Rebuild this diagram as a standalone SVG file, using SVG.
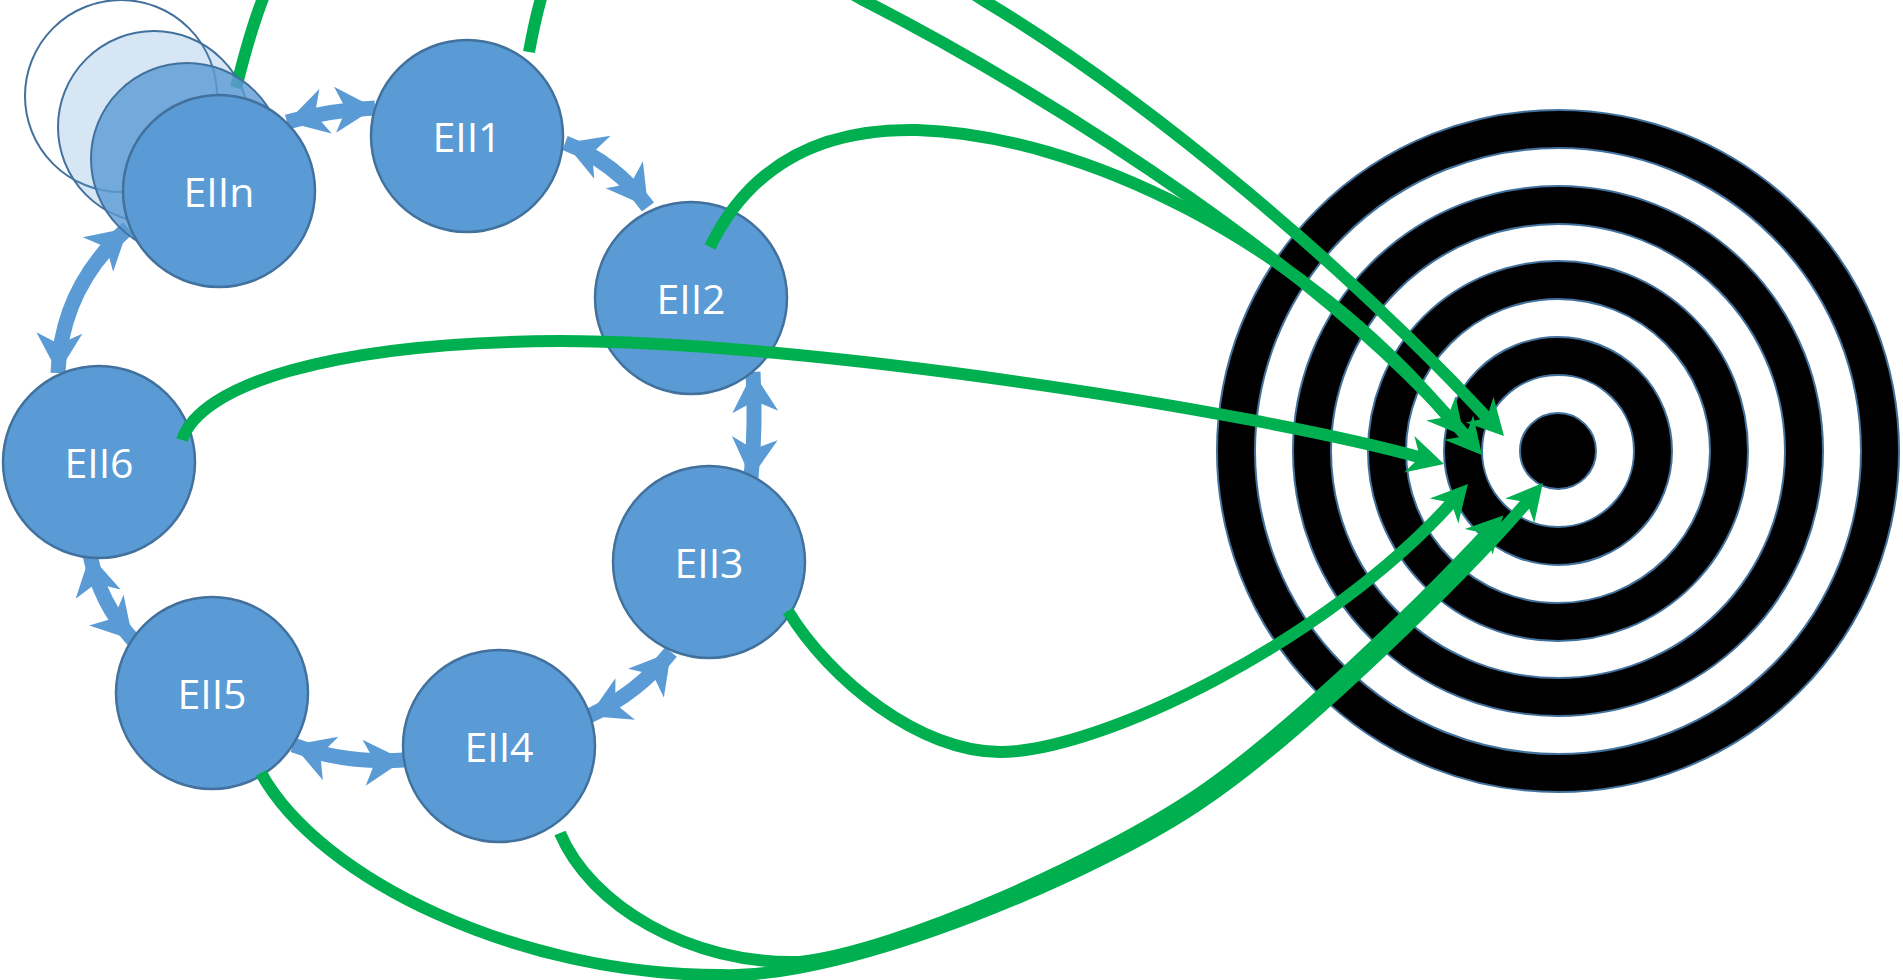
<svg xmlns="http://www.w3.org/2000/svg" width="1903" height="980" viewBox="0 0 1903 980">
<style>
.node{fill:#5b9bd5;stroke:#41719c;stroke-width:2.5}
.lbl{font-family:"Open Sans","Liberation Sans",sans-serif;font-size:41px;fill:#ffffff;text-anchor:middle}
.ring{stroke:#41719c;stroke-width:2}
.blue{fill:none;stroke:#5b9bd5;stroke-width:15;marker-start:url(#bh);marker-end:url(#bh)}
.green{fill:none;stroke:#00b050;stroke-width:12;marker-end:url(#gh)}
</style>
<defs>
<marker id="bh" viewBox="-44 -25 46 50" refX="0" refY="0" markerWidth="46" markerHeight="50" markerUnits="userSpaceOnUse" orient="auto-start-reverse">
<path d="M0,0 L-40,-23 L-29,0 L-40,23 Z" fill="#5b9bd5"/>
</marker>
<marker id="gh" viewBox="-40 -22 42 44" refX="-20" refY="0" markerWidth="42" markerHeight="44" markerUnits="userSpaceOnUse" orient="auto">
<path d="M0,0 L-36,-19 L-25,0 L-36,19 Z" fill="#00b050"/>
</marker>
</defs>
<rect width="1903" height="980" fill="#ffffff"/>
<g id="target">
<circle class="ring" cx="1558" cy="451" r="341" fill="#000"/>
<circle class="ring" cx="1558" cy="451" r="303" fill="#fff"/>
<circle class="ring" cx="1558" cy="451" r="265" fill="#000"/>
<circle class="ring" cx="1558" cy="451" r="227" fill="#fff"/>
<circle class="ring" cx="1558" cy="451" r="190" fill="#000"/>
<circle class="ring" cx="1558" cy="451" r="152" fill="#fff"/>
<circle class="ring" cx="1558" cy="451" r="114" fill="#000"/>
<circle class="ring" cx="1558" cy="451" r="76" fill="#fff"/>
<circle class="ring" cx="1558" cy="451" r="38" fill="#000"/>
</g>
<g id="cycle-connectors">
<path class="blue" d="M287,122 Q330,110 375,108"/>
<path class="blue" d="M565,143 Q615,162 648,207"/>
<path class="blue" d="M753,372 Q756,425 751,478"/>
<path class="blue" d="M671,652 Q638,693 589,716"/>
<path class="blue" d="M404,760 Q346,764 293,745"/>
<path class="blue" d="M133,640 Q100,603 90,555"/>
<path class="blue" d="M58,373 Q61,287 128,228"/>
</g>
<g id="EII1"><circle class="node" cx="467" cy="136" r="96"/><text class="lbl" x="467" y="152">EII1</text></g>
<g id="EII2"><circle class="node" cx="691" cy="298" r="96"/><text class="lbl" x="691" y="314">EII2</text></g>
<g id="EII3"><circle class="node" cx="709" cy="562" r="96"/><text class="lbl" x="709" y="578">EII3</text></g>
<g id="EII4"><circle class="node" cx="499" cy="746" r="96"/><text class="lbl" x="499" y="762">EII4</text></g>
<g id="EII5"><circle class="node" cx="212" cy="693" r="96"/><text class="lbl" x="212" y="709">EII5</text></g>
<g id="EII6"><circle class="node" cx="99" cy="462" r="96"/><text class="lbl" x="99" y="478">EII6</text></g>
<g id="target-connectors">
<path class="green" d="M236,88 C248,40 262,-10 290,-60 C380,-200 800,-120 983,0 C1150,100 1350,270 1490.4,421.3"/>
<path class="green" d="M529,52 C533,30 537,10 545,-15 C580,-120 760,-60 863,0 C1063,102 1332,278 1469,439.7"/>
<path class="green" d="M710,247 C750,165 820,128 917,130 C1080,135 1300,240 1451.2,420.7"/>
<path class="green" d="M182,440 C200,385 330,342 560,341 C800,341 1250,410 1424.7,458.6"/>
<path class="green" d="M788,611 C830,680 920,752 1000,752 C1100,752 1330,640 1454.7,499"/>
<path class="green" d="M560,833 C590,905 690,965 800,962 C900,950 1098.4,861.3 1198.4,793.9 C1279.15,739.5 1414.1,611.4 1489.6,530.2"/>
<path class="green" d="M261,773 C320,880 520,975 720,975 C850,980 1105,870 1205,800 C1300,736 1470,570 1530,498.4"/>
</g>
<g id="EIIn">
<circle cx="121" cy="96" r="96" fill="none" stroke="#41719c" stroke-width="2"/>
<circle cx="154" cy="127" r="96" fill="#5b9bd5" fill-opacity="0.25" stroke="#41719c" stroke-width="2"/>
<circle cx="187" cy="159" r="96" fill="#5b9bd5" fill-opacity="0.8" stroke="#41719c" stroke-width="2"/>
<circle class="node" cx="219" cy="191" r="96"/>
<text class="lbl" x="219" y="207">EIIn</text>
</g>
</svg>
